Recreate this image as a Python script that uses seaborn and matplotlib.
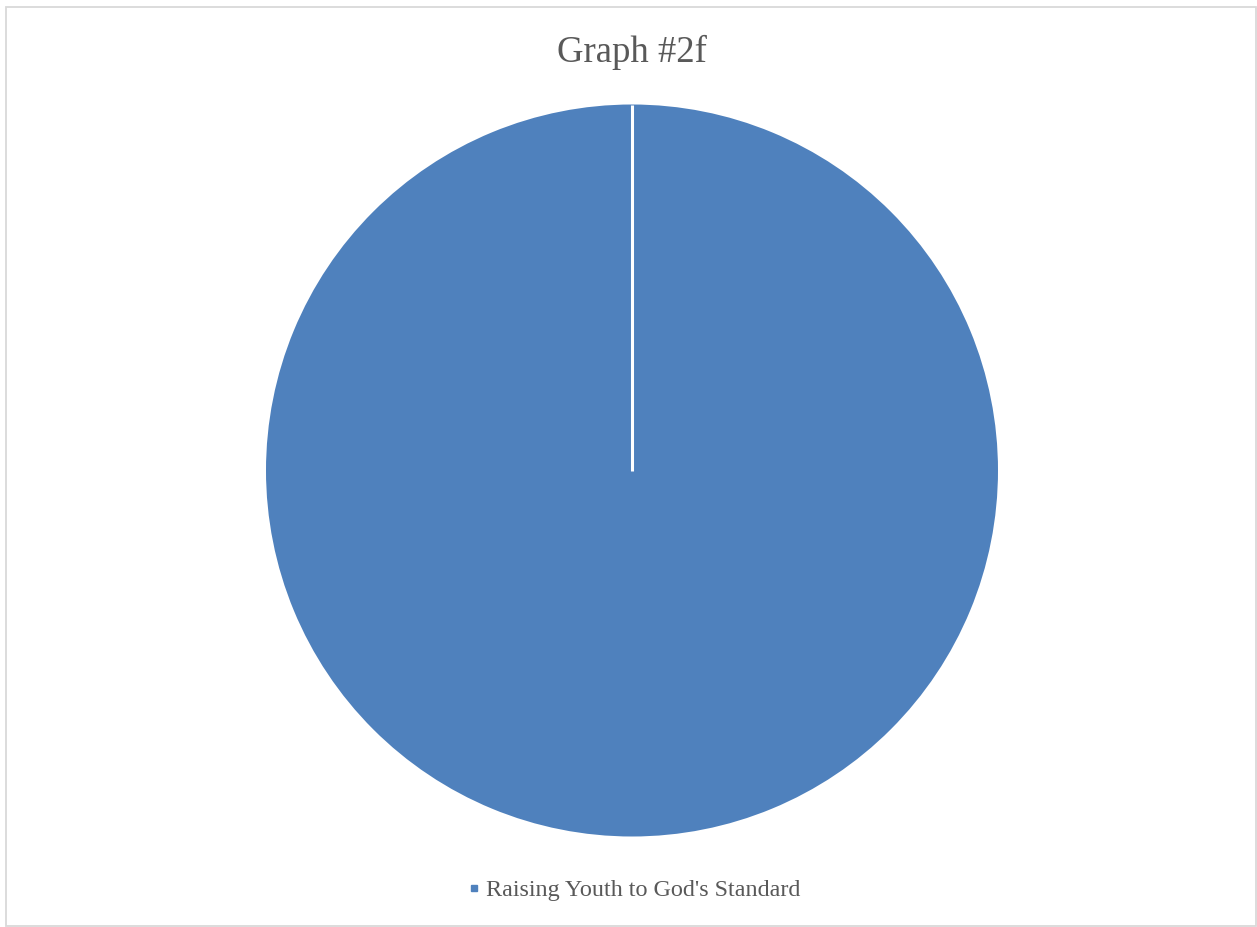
import matplotlib
matplotlib.use("Agg")
import matplotlib.pyplot as plt
from matplotlib.patches import Rectangle
from matplotlib.lines import Line2D
import numpy as np
import seaborn as sns

# Chart data
categories = ["Raising Youth to God's Standard"]
values = [100]
title = "Graph #2f"

sns.set_theme(style="white")
plt.rcParams["font.family"] = ["Liberation Serif", "DejaVu Serif"]

slice_color = "#4f81bd"
text_color = "#595959"

W, H = 1257, 927
fig = plt.figure(figsize=(W / 100, H / 100), dpi=100)
fig.patch.set_facecolor("white")

# Chart-area frame
fig.patches.append(Rectangle((6 / W, 1.5 / H), (1250 / W), (919 / H),
                             transform=fig.transFigure, fill=False,
                             edgecolor="#d9d9d9", linewidth=1.3))

# Pie plot area
cx, cy, r = 632, 470.5, 366
ax = fig.add_axes([(cx - r) / W, 1 - (cy + r) / H, 2 * r / W, 2 * r / H])
wedges, _ = ax.pie(values, colors=[slice_color] * len(values), startangle=90,
                   counterclock=False, radius=1,
                   wedgeprops=dict(edgecolor="none", linewidth=0))

# A full circle wedge has no radial edge, so draw the slice border from its start angle
for w in wedges:
    if abs((w.theta2 - w.theta1) - 360) < 1e-9:
        ang = np.deg2rad(w.theta2)
        x0, y0 = w.center
        ax.plot([x0, x0 + w.r * np.cos(ang)], [y0, y0 + w.r * np.sin(ang)],
                color="white", linewidth=2.2, solid_capstyle="butt", zorder=5)

ax.set_xlim(-1, 1)
ax.set_ylim(-1, 1)
ax.set_aspect("equal")
ax.axis("off")

fig.text(cx / W, 1 - 52 / H, title, ha="center", va="center",
         fontsize=26.5, color=text_color)

handles = [Line2D([0], [0], marker="s", linestyle="none", markersize=5,
                  markerfacecolor=slice_color, markeredgecolor=slice_color)
           for _ in categories]
fig.legend(handles, categories, loc="center", bbox_to_anchor=(cx / W, 1 - 890 / H),
           frameon=False, fontsize=17.4, labelcolor=text_color,
           handletextpad=0.1, handlelength=0.8)

fig.savefig("out.png", dpi=100, facecolor="white")
